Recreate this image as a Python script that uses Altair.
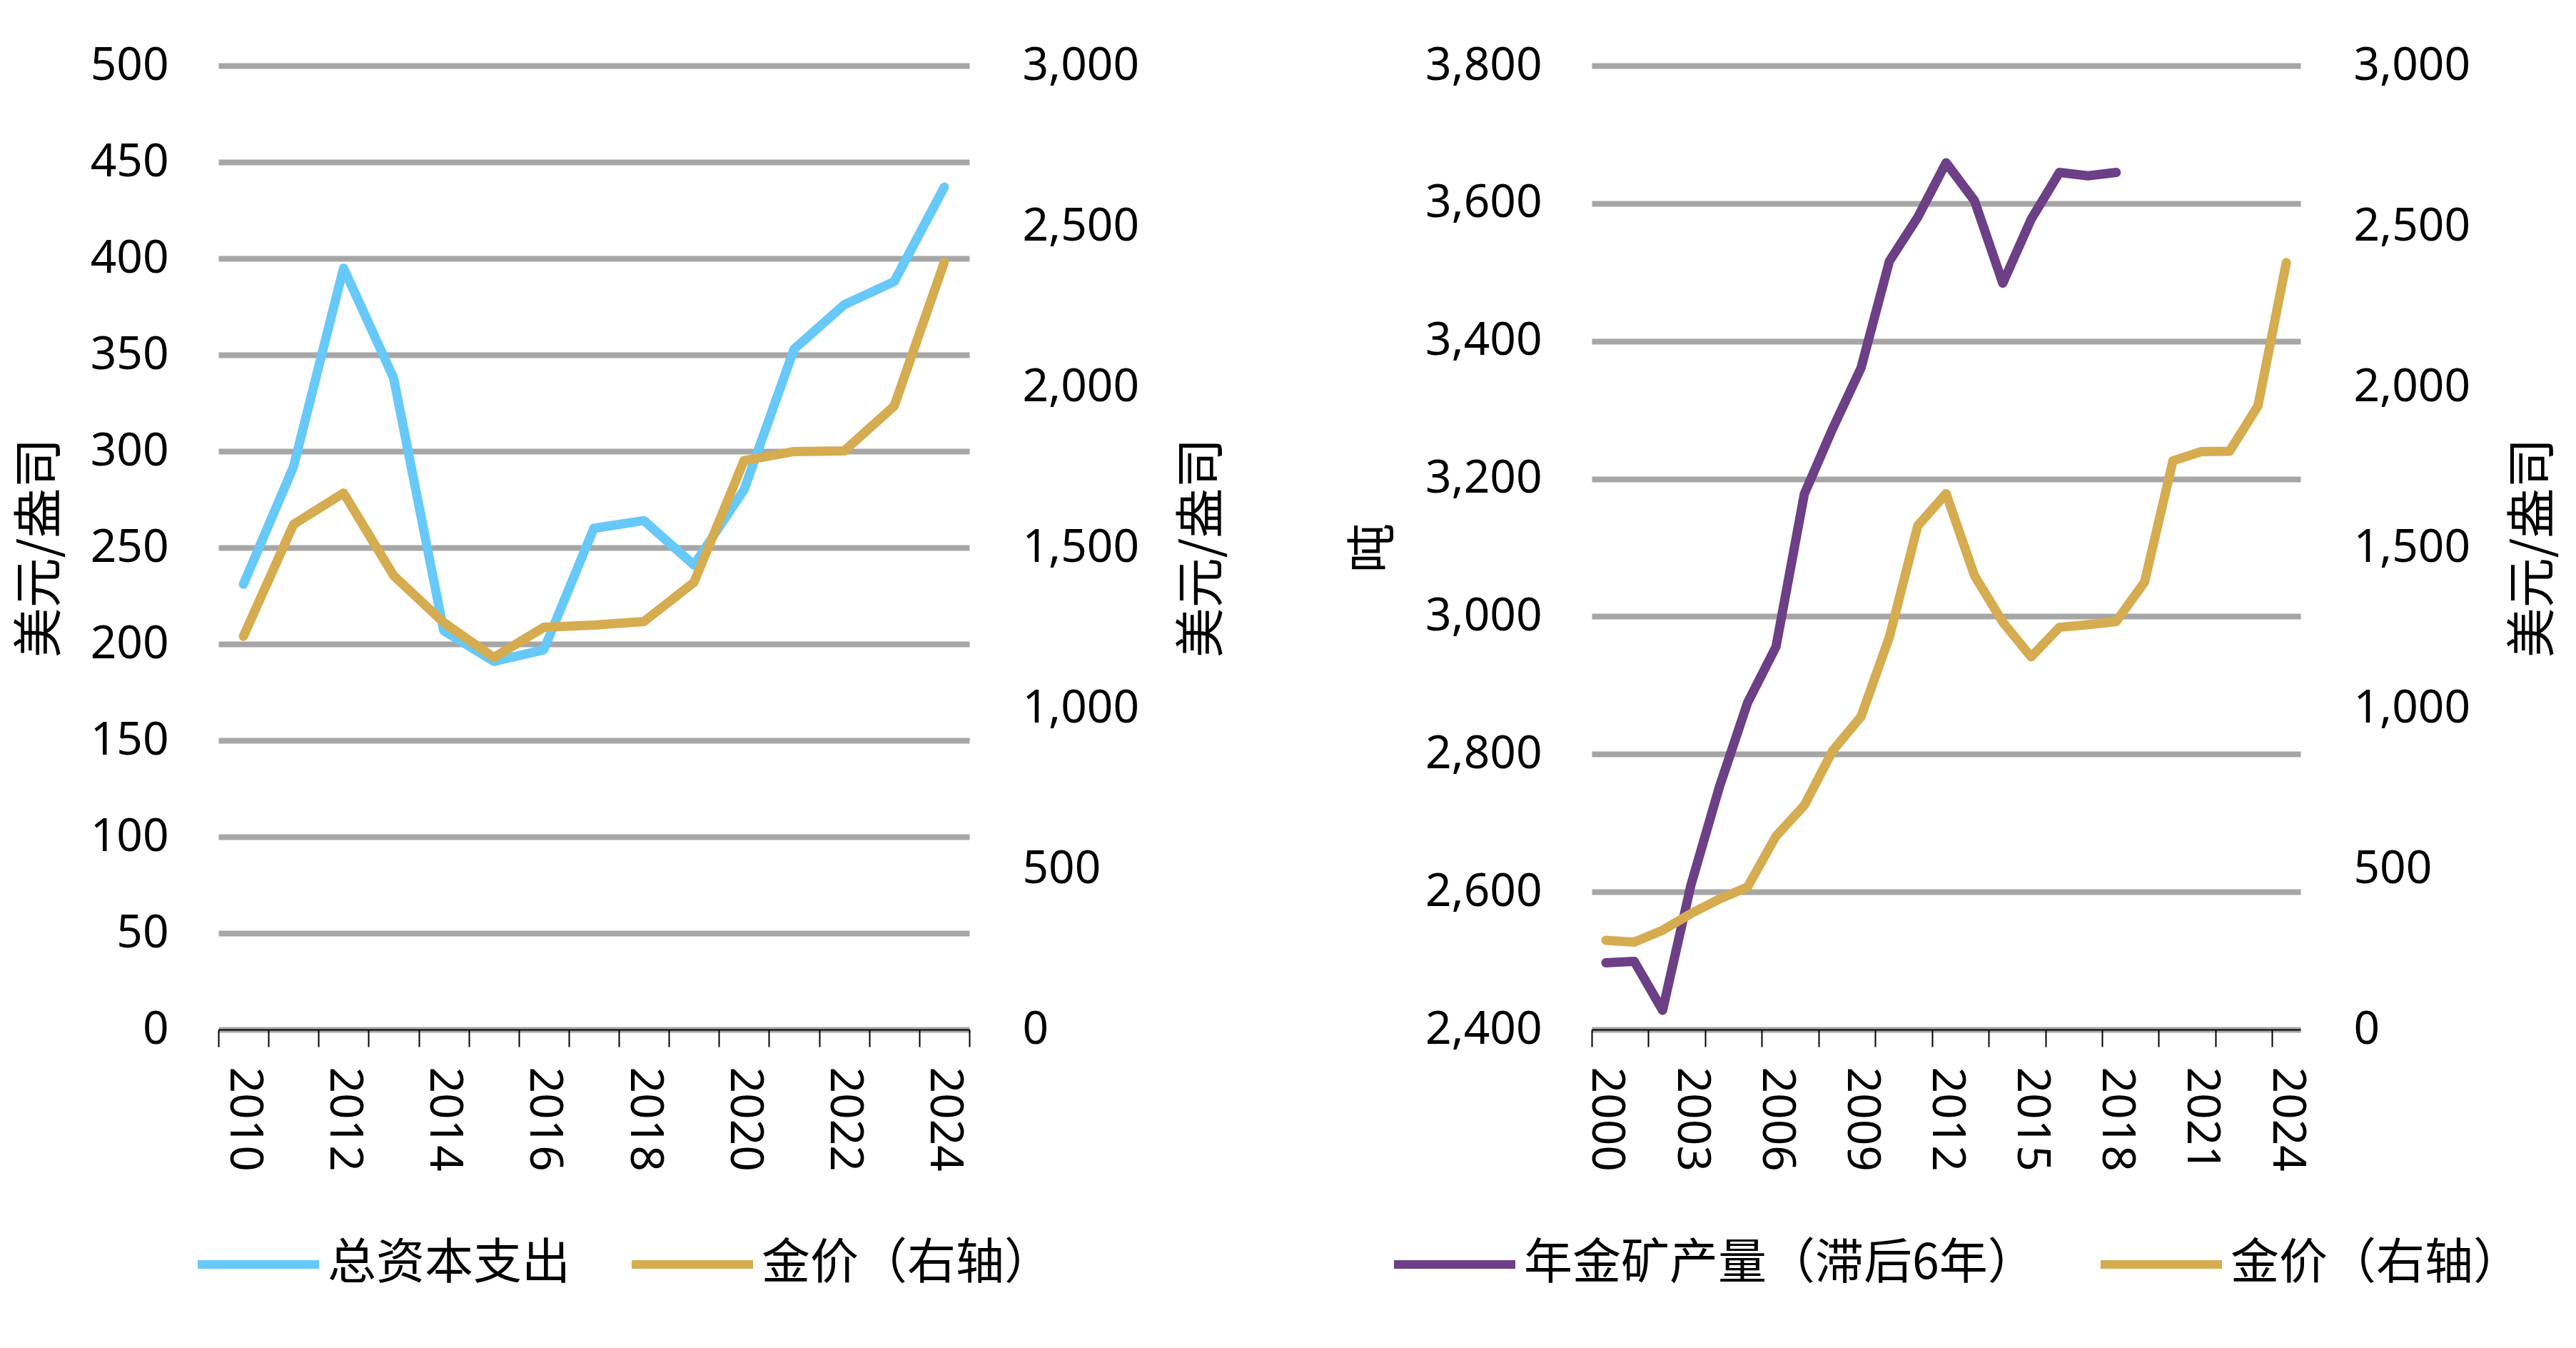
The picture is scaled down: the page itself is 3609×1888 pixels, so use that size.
import altair as alt
import pandas as pd

# left panel: capex vs gold price
CAPEX_YEARS = list(range(2010, 2025))
CAPEX = [231, 292, 395, 338, 207, 191, 197, 260, 264, 241, 280, 353, 376, 388, 437]
CAPEX_GOLD = [1224, 1572, 1670, 1413, 1267, 1158, 1252, 1259, 1270, 1392, 1771, 1799, 1801, 1941, 2388]

# right panel: mine output (lagged 6y) vs gold price
MINE_YEARS = list(range(2000, 2019))
MINE_OUTPUT = [2497, 2499, 2428, 2610, 2752, 2875, 2956, 3178, 3273, 3361,
               3516, 3580, 3659, 3604, 3484, 3577, 3645, 3640, 3645]
GOLD_YEARS = list(range(2000, 2025))
GOLD_PRICE = [278, 272, 309, 361, 406, 444, 602, 698, 868, 974, 1222, 1568, 1668,
              1413, 1268, 1160, 1252, 1260, 1270, 1393, 1770, 1799, 1800, 1941, 2387]

LEFT_NAMES = ["总资本支出", "金价（右轴）"]
RIGHT_NAMES = ["年金矿产量（滞后6年）", "金价（右轴）"]
LEFT_TICKS = [y - 0.5 for y in range(2010, 2026)]
LEFT_LABELS = list(range(2010, 2025, 2))
RIGHT_TICKS = [y - 0.5 for y in range(2000, 2025, 2)]
RIGHT_LABELS = list(range(2000, 2025, 3))

BLUE = "#66C9FA"
GOLD = "#D6AC50"
PURPLE = "#6C3F87"
GRID = "#A6A6A6"
NUM_FONT = "Noto Sans"
CJK_FONT = "Noto Sans CJK SC"


def frame(years, values, name):
    return pd.DataFrame({"year": years, "value": values, "series": name})


def panel(main_df, gold_df, names, colors, x_dom, ticks, labels, ly_dom, ly_vals,
          ly_title, ly_fmt, ly_title_pad, width, legend_x, col_pad):
    x_scale = alt.Scale(domain=x_dom, nice=False, zero=False)
    color = alt.Color(
        "series:N",
        scale=alt.Scale(domain=names, range=colors),
        legend=alt.Legend(
            orient="none", legendX=legend_x, legendY=1588, direction="horizontal",
            title=None, symbolType="stroke", symbolSize=28900, symbolStrokeWidth=12,
            labelFont=CJK_FONT, labelFontSize=68, labelOffset=6, labelLimit=1500,
            columnPadding=col_pad, padding=0, labelColor="black",
        ),
    )
    line = dict(strokeWidth=13, strokeCap="round", strokeJoin="round")

    main = alt.Chart(main_df).mark_line(**line).encode(
        x=alt.X("year:Q", scale=x_scale, axis=alt.Axis(
            orient="bottom", values=ticks, labels=False, ticks=True, tickSize=24,
            tickWidth=2, tickColor="black", domain=True, domainColor="black",
            domainWidth=2, grid=False, title=None)),
        y=alt.Y("value:Q", scale=alt.Scale(domain=ly_dom, nice=False, zero=False),
                axis=alt.Axis(
                    values=ly_vals, orient="left", format=ly_fmt, grid=True,
                    gridColor=GRID, gridWidth=8, domain=False, ticks=False,
                    labelFont=NUM_FONT, labelFontSize=64, labelPadding=70,
                    title=ly_title, titleFont=CJK_FONT, titleFontSize=70,
                    titleFontWeight="normal", titlePadding=ly_title_pad)),
        color=color,
    )

    gold = alt.Chart(gold_df).mark_line(**line).encode(
        x=alt.X("year:Q", scale=x_scale, axis=alt.Axis(
            orient="bottom", values=labels, labels=True, ticks=False, domain=False,
            grid=False, labelAngle=90, labelPadding=52, labelFont=NUM_FONT,
            labelFontSize=64, format="d", title=None)),
        y=alt.Y("value:Q", scale=alt.Scale(domain=[0, 3000], nice=False),
                axis=alt.Axis(
                    values=list(range(0, 3001, 500)), orient="right", format=",.0f",
                    grid=False, domain=False, ticks=False,
                    labelFont=NUM_FONT, labelFontSize=64, labelPadding=74,
                    title="美元/盎司", titleFont=CJK_FONT, titleFontSize=70,
                    titleFontWeight="normal", titlePadding=93, titleAngle=270,
                    titleBaseline="top")),
        color=color,
    )

    return (
        alt.layer(main, gold)
        .resolve_scale(y="independent")
        .resolve_axis(x="independent", y="independent")
        .properties(width=width, height=1350)
    )


left = panel(
    frame(CAPEX_YEARS, CAPEX, LEFT_NAMES[0]),
    frame(CAPEX_YEARS, CAPEX_GOLD, LEFT_NAMES[1]),
    LEFT_NAMES, [BLUE, GOLD], [2009.5, 2024.5], LEFT_TICKS, LEFT_LABELS,
    [0, 500], list(range(0, 501, 50)), "美元/盎司", "d", 33, 1052, -35, 61,
)

right = panel(
    frame(MINE_YEARS, MINE_OUTPUT, RIGHT_NAMES[0]),
    frame(GOLD_YEARS, GOLD_PRICE, RIGHT_NAMES[1]),
    RIGHT_NAMES, [PURPLE, GOLD], [1999.5, 2024.5], RIGHT_TICKS, RIGHT_LABELS,
    [2400, 3800], list(range(2400, 3801, 200)), "吨", ",.0f", 69, 993, -283, 66,
)

chart = (
    alt.hconcat(left, right, spacing=170)
    .resolve_scale(color="independent")
    .resolve_legend(color="independent")
    .properties(padding={"left": 14, "top": 52, "right": 5, "bottom": 5})
    .configure_view(strokeWidth=0)
    .configure_axis(labelColor="black", titleColor="black")
)

chart.save("out.html", embed_options={"renderer": "svg", "actions": False})
